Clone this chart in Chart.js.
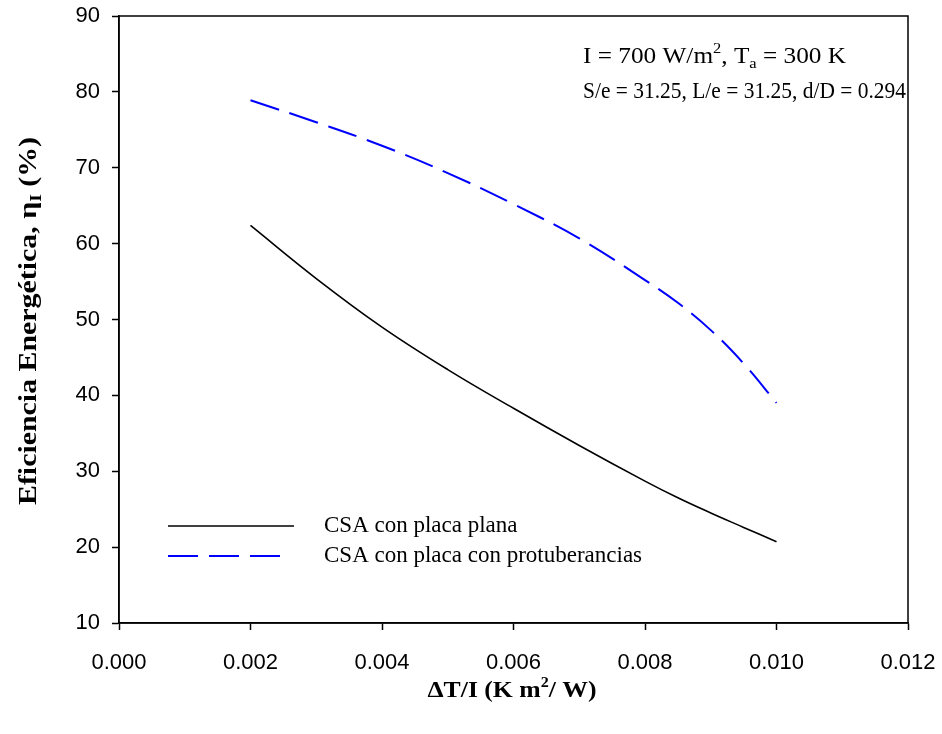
<!DOCTYPE html>
<html>
<head>
<meta charset="utf-8">
<script src="https://cdn.jsdelivr.net/npm/chart.js@4.4.1/dist/chart.umd.min.js"></script>
<style>
    html, body { margin: 0; padding: 0; background: #ffffff; }
    #wrap { width: 942px; height: 734px; }
</style>
</head>
<body>
<div id="wrap"><canvas id="chart"></canvas></div>
<script>
// Datos
const xValues = [0.002, 0.003, 0.004, 0.005, 0.006, 0.007, 0.008, 0.0085, 0.009, 0.0095, 0.010];
const placaPlana = [62.4, 55.4, 49.0, 43.4, 38.3, 33.4, 28.7, 26.5, 24.5, 22.6, 20.7];
const placaProtuberancias = [78.9, 76.0, 72.9, 69.3, 65.2, 60.7, 55.2, 52.2, 48.6, 44.2, 39.0];
const seriesLabels = ['CSA con placa plana', 'CSA con placa con protuberancias'];
const xTicks = [0, 0.002, 0.004, 0.006, 0.008, 0.010, 0.012];
const yTicks = [10, 20, 30, 40, 50, 60, 70, 80, 90];

const serif = '"Liberation Serif", "Times New Roman", serif';
const sans = '"Liberation Sans", Arial, sans-serif';

function toPoints(values) {
    return xValues.map((x, i) => ({ x: x, y: values[i] }));
}

function runsWidth(ctx, runs) {
    let total = 0;
    runs.forEach(r => { ctx.font = r.font; total += ctx.measureText(r.t).width; });
    return total;
}

// dibuja una secuencia de trozos de texto (para sub/superíndices)
function drawRuns(ctx, runs, x, y, scaleX, center) {
    const total = runsWidth(ctx, runs);
    ctx.save();
    ctx.translate(x, y);
    ctx.scale(scaleX, 1);
    let cx = center ? -total / 2 : 0;
    ctx.textBaseline = 'alphabetic';
    ctx.textAlign = 'left';
    runs.forEach(r => {
        ctx.font = r.font;
        ctx.fillText(r.t, cx, r.dy || 0);
        cx += ctx.measureText(r.t).width;
    });
    ctx.restore();
}

const extras = {
    id: 'extras',
    afterDraw(chart) {
        const ctx = chart.ctx;
        const a = chart.chartArea;
        ctx.save();
        // marco
        ctx.strokeStyle = '#000';
        ctx.lineWidth = 1.5;
        ctx.strokeRect(a.left, a.top, a.right - a.left, a.bottom - a.top);
        ctx.fillStyle = '#000';

        // anotación
        const f = '23px ' + serif;
        const fs = '15px ' + serif;
        const line1 = [
            { t: 'I = 700 W/m', font: f },
            { t: '2', font: fs, dy: -10 },
            { t: ', T', font: f },
            { t: 'a', font: fs, dy: 5 },
            { t: ' = 300 K', font: f }
        ];
        const line2 = [{ t: 'S/e = 31.25, L/e = 31.25, d/D = 0.294', font: f }];
        drawRuns(ctx, line1, 583, 63, 263 / runsWidth(ctx, line1));
        drawRuns(ctx, line2, 583, 98, 323 / runsWidth(ctx, line2));

        // leyenda
        const ds = chart.data.datasets;
        const legendY = [526, 556];
        ds.forEach((d, i) => {
            ctx.save();
            ctx.strokeStyle = d.borderColor;
            ctx.lineWidth = d.borderWidth;
            ctx.setLineDash(d.borderDash || []);
            ctx.beginPath();
            ctx.moveTo(168, legendY[i]);
            ctx.lineTo(i === 0 ? 294 : 282, legendY[i]);
            ctx.stroke();
            ctx.restore();
            ctx.font = '23px ' + serif;
            ctx.textBaseline = 'middle';
            ctx.textAlign = 'left';
            ctx.fillText(d.label, 324, legendY[i]);
        });

        // título eje y
        const fb = 'bold 26px ' + serif;
        const fbs = 'bold 17px ' + serif;
        const yRuns = [
            { t: 'Eficiencia Energética, η', font: fb },
            { t: 'I', font: fbs, dy: 5 },
            { t: ' (%)', font: fb }
        ];
        ctx.save();
        ctx.translate(36, 321);
        ctx.rotate(-Math.PI / 2);
        drawRuns(ctx, yRuns, 0, 0, 368 / runsWidth(ctx, yRuns), true);
        ctx.restore();

        // título eje x
        const fx = 'bold 24px ' + serif;
        const xRuns = [
            { t: 'ΔT/I (K m', font: fx },
            { t: '2', font: 'bold 15px ' + serif, dy: -10 },
            { t: '/ W)', font: fx }
        ];
        drawRuns(ctx, xRuns, 512, 697, 169 / runsWidth(ctx, xRuns), true);
        ctx.restore();
    }
};

const ctx = document.getElementById('chart').getContext('2d');
new Chart(ctx, {
    type: 'line',
    data: {
        datasets: [
            {
                label: seriesLabels[0],
                data: toPoints(placaPlana),
                borderColor: '#000000',
                borderWidth: 1.6,
                pointRadius: 0,
                fill: false,
                tension: 0.4
            },
            {
                label: seriesLabels[1],
                data: toPoints(placaProtuberancias),
                borderColor: '#0000ff',
                borderWidth: 2,
                borderDash: [30, 11],
                pointRadius: 0,
                fill: false,
                tension: 0.4
            }
        ]
    },
    options: {
        responsive: true,
        maintainAspectRatio: false,
        animation: false,
        layout: { padding: { left: 0, top: 16, right: 34, bottom: 0 } },
        plugins: {
            legend: { display: false },
            tooltip: { enabled: false }
        },
        scales: {
            x: {
                type: 'linear',
                min: 0,
                max: 0.012,
                afterBuildTicks: s => { s.ticks = xTicks.map(v => ({ value: v })); },
                afterFit: s => { s.height = 111; s.paddingLeft = 0; s.paddingRight = 0; },
                grid: { drawOnChartArea: false, drawTicks: true, tickLength: 7, tickWidth: 1.5, tickColor: '#000' },
                border: { color: '#000', width: 1.5 },
                ticks: {
                    color: '#000',
                    padding: 20,
                    maxRotation: 0,
                    font: { family: sans, size: 22 },
                    callback: v => v.toFixed(3)
                }
            },
            y: {
                type: 'linear',
                min: 10,
                max: 90,
                afterBuildTicks: s => { s.ticks = yTicks.map(v => ({ value: v })); },
                afterFit: s => { s.width = 119; s.paddingTop = 0; s.paddingBottom = 0; },
                grid: { drawOnChartArea: false, drawTicks: true, tickLength: 7, tickWidth: 1.5, tickColor: '#000' },
                border: { color: '#000', width: 1.5 },
                ticks: {
                    color: '#000',
                    padding: 12,
                    font: { family: sans, size: 22 },
                    callback: v => String(v)
                }
            }
        }
    },
    plugins: [extras]
});
</script>
</body>
</html>
